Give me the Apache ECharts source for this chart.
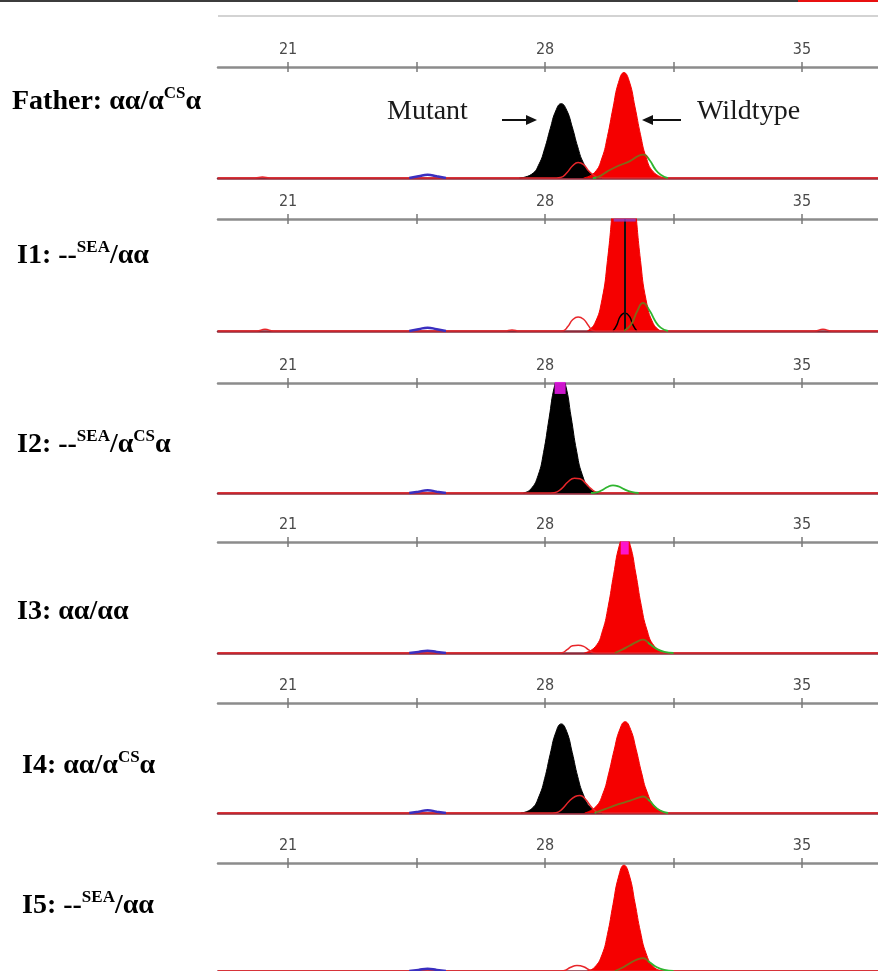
<!DOCTYPE html>
<html>
<head>
<meta charset="utf-8">
<script src="https://cdn.jsdelivr.net/npm/echarts@6/dist/echarts.min.js"></script>
<style>
  html, body { margin: 0; padding: 0; background: #fff; }
  #main { width: 878px; height: 971px; }
</style>
</head>
<body>
<div id="main"></div>
<script>
// x axis (size, bp)
const xMin = 19.09, xMax = 37.07;
const tickValues = [21, 24.5, 28, 31.5, 35];
const labelValues = [21, 28, 35];

// sample names, rich text
const sampleNames = [
  '{b|Father: αα/α}{s|CS}{b|α}',
  '{b|I1: --}{s|SEA}{b|/αα}',
  '{b|I2: --}{s|SEA}{b|/α}{s|CS}{b|α}',
  '{b|I3: αα/αα}',
  '{b|I4: αα/α}{s|CS}{b|α}',
  '{b|I5: --}{s|SEA}{b|/αα}'
];

// Father
const fatherBlack = [[27.3,0],[27.64,3.5],[27.84,12.8],[27.99,26.5],[28.14,44.3],[28.29,60.4],[28.44,67],[28.59,61],[28.74,46],[28.89,28],[29.04,14],[29.24,4.5],[29.55,0]];
const fatherRed = [[29.05,0],[29.35,5],[29.55,18],[29.7,37.5],[29.85,63],[30.0,86],[30.15,95],[30.3,86.5],[30.45,64],[30.6,39],[30.75,19],[30.95,5.5],[31.25,0]];
const fatherTrace = [[19.09,0],[20.1,0],[20.3,0.8],[20.5,0],[28.2,0],[28.42,0.5],[28.6,5],[28.75,11],[28.9,14],[29.05,12],[29.2,6],[29.35,2],[29.5,0.3],[29.7,0],[37.07,0]];
const fatherGreen = [[29.3,0],[29.45,1],[29.7,6],[30.0,11],[30.3,15],[30.55,20],[30.68,21],[30.85,16],[31.0,8],[31.15,3],[31.35,0]];
const fatherBlue = [[24.3,0],[24.55,1.5],[24.8,3],[25.05,1.5],[25.3,0]];

// I1
const i1Black = [[29.85,0],[29.95,5],[30.05,13],[30.18,16],[30.3,13],[30.4,5],[30.5,0]];
const i1Spike = [30.18];
const i1Red = [[29.15,0],[29.35,6.5],[29.55,28],[29.7,63],[29.85,113],[30.0,160],[30.15,180],[30.3,160],[30.45,113],[30.6,63],[30.75,28],[30.95,6.5],[31.15,0]];
const i1Trace = [[19.09,0],[20.15,0],[20.37,1.5],[20.6,0],[26.9,0],[27.1,1],[27.3,0],[28.35,0],[28.5,0.3],[28.62,4],[28.75,10],[28.9,12.5],[29.05,10.5],[29.18,5],[29.3,0.5],[29.45,0],[35.35,0],[35.57,1.5],[35.8,0],[37.07,0]];
const i1Green = [[30.15,0],[30.35,6],[30.5,17],[30.67,25],[30.85,18],[31.0,9],[31.15,3],[31.35,0]];
const i1Blue = [[24.3,0],[24.55,1.5],[24.8,3],[25.05,1.5],[25.3,0]];
const i1Cap = [[30.17,99]];

// I2
const i2Black = [[27.41,0],[27.61,3.5],[27.81,16],[27.96,37],[28.11,68],[28.26,97.5],[28.41,110],[28.56,98],[28.71,69],[28.86,38],[29.01,17],[29.21,4],[29.45,0]];
const i2Trace = [[19.09,0],[28.05,0],[28.25,0.3],[28.45,4],[28.62,10],[28.8,13.5],[28.95,13],[29.1,9],[29.25,4],[29.42,0.5],[29.6,0],[37.07,0]];
const i2Green = [[29.25,0],[29.4,0.5],[29.55,2.5],[29.7,5.5],[29.85,7],[30.0,6],[30.15,3.5],[30.35,1],[30.55,0]];
const i2Blue = [[24.3,0],[24.55,1.2],[24.8,2.5],[25.05,1.2],[25.3,0]];
const i2Cap = [[28.41,95.5]];

// I3
const i3Red = [[29.07,0],[29.37,5.7],[29.57,20.5],[29.72,42],[29.87,71],[30.02,96.5],[30.17,107],[30.32,97],[30.47,72],[30.62,43],[30.77,21.5],[30.97,6.5],[31.27,0]];
const i3Trace = [[19.09,0],[28.25,0],[28.45,0.2],[28.6,3],[28.75,6.5],[28.9,7],[29.05,6],[29.2,2.5],[29.32,0.3],[29.5,0],[37.07,0]];
const i3Green = [[29.9,0],[30.1,3],[30.3,6.5],[30.5,10],[30.67,12],[30.85,8],[31.05,3.5],[31.25,1],[31.5,0]];
const i3Blue = [[24.3,0],[24.55,1],[24.8,2],[25.05,1],[25.3,0]];
const i3Cap = [[30.17,94.6]];

// I4
const i4Black = [[27.34,0],[27.64,4],[27.84,15.5],[27.99,31.5],[28.14,53.5],[28.29,73],[28.44,81],[28.59,74],[28.74,55],[28.89,33],[29.04,17],[29.24,5],[29.55,0]];
const i4Red = [[29.08,0],[29.38,5.6],[29.58,18],[29.73,35.5],[29.88,57],[30.03,75.5],[30.18,83],[30.33,76],[30.48,58],[30.63,36.5],[30.78,19],[30.98,6.5],[31.3,0]];
const i4Trace = [[19.09,0],[28.1,0],[28.3,0.3],[28.48,4],[28.65,10.5],[28.82,15],[28.95,16],[29.1,12.5],[29.25,6],[29.42,1],[29.6,0],[37.07,0]];
const i4Green = [[29.35,0],[29.5,2],[29.75,5],[30.0,8],[30.3,11],[30.55,14],[30.67,15],[30.85,11],[31.0,5.5],[31.15,2],[31.35,0]];
const i4Blue = [[24.3,0],[24.55,1.2],[24.8,2.5],[25.05,1.2],[25.3,0]];

// I5
const i5Red = [[29.15,0],[29.35,3.5],[29.55,15],[29.7,34],[29.85,61.5],[30.0,87],[30.15,98],[30.3,88],[30.45,63],[30.6,36],[30.75,16.5],[30.95,4],[31.2,0]];
const i5Trace = [[19.09,0],[28.3,0],[28.5,0.2],[28.7,3.5],[28.87,5],[29.05,4],[29.25,0.5],[29.45,0],[37.07,0]];
const i5Green = [[29.9,0],[30.1,3],[30.3,7],[30.5,10.5],[30.67,12],[30.85,8],[31.05,3.5],[31.25,1],[31.5,0]];
const i5Blue = [[24.3,0],[24.55,1],[24.8,2],[25.05,1],[25.3,0]];

const panels = [
  { black: fatherBlack, red: fatherRed, trace: fatherTrace, green: fatherGreen, blue: fatherBlue, olive: true },
  { black: i1Black, red: i1Red, trace: i1Trace, green: i1Green, blue: i1Blue, spike: i1Spike, cap: i1Cap, capColor: '#8a3fc8', capSize: [22, 3], olive: true },
  { black: i2Black, trace: i2Trace, green: i2Green, blue: i2Blue, cap: i2Cap, capColor: '#ff1aff', capSize: [11, 12] },
  { red: i3Red, trace: i3Trace, green: i3Green, blue: i3Blue, cap: i3Cap, capColor: '#ff1aff', capSize: [8, 13], olive: true },
  { black: i4Black, red: i4Red, trace: i4Trace, green: i4Green, blue: i4Blue, olive: true },
  { red: i5Red, trace: i5Trace, green: i5Green, blue: i5Blue, olive: true }
];

// layout
const panelTop = [67, 219, 383, 542, 703, 863];
const panelHeight = [111, 112, 110, 111, 110, 108];
const nameX = [12, 17, 17, 17, 22, 22];
const nameY = [102, 256, 445, 615, 766, 906];

const tickFont = 'Liberation Sans Narrow, DejaVu Sans Condensed, Arial, sans-serif';
const serif = 'Liberation Serif, Times New Roman, serif';

const grid = [], xAxis = [], yAxis = [], series = [], graphic = [];
const oliveSeries = [];

panels.forEach((p, i) => {
  const g = { left: 218, right: 0, top: panelTop[i], height: panelHeight[i] };
  grid.push(Object.assign({}, g), Object.assign({}, g));
  // top axis: labels, outward ticks
  xAxis.push({
    type: 'value', gridIndex: 2 * i, position: 'top', min: xMin, max: xMax,
    splitLine: { show: false },
    axisLine: { show: true, onZero: false, lineStyle: { color: '#8c8c8c', width: 2.5 } },
    axisTick: { show: true, customValues: tickValues, length: 5, lineStyle: { color: '#7a7a7a', width: 1.5 } },
    axisLabel: { show: true, customValues: labelValues, color: '#4a4a4a', fontSize: 16, margin: 9, fontFamily: tickFont }
  });
  // baseline
  xAxis.push({
    type: 'value', gridIndex: 2 * i, position: 'bottom', min: xMin, max: xMax,
    splitLine: { show: false }, axisTick: { show: false }, axisLabel: { show: false },
    axisLine: { show: true, onZero: false, lineStyle: { color: '#8a2a3a', width: 2.5 } }
  });
  // inward ticks
  xAxis.push({
    type: 'value', gridIndex: 2 * i + 1, position: 'top', min: xMin, max: xMax,
    splitLine: { show: false }, axisLabel: { show: false },
    axisLine: { show: false, onZero: false },
    axisTick: { show: true, inside: true, customValues: tickValues, length: 5, lineStyle: { color: '#7a7a7a', width: 1.5 } }
  });
  yAxis.push({ type: 'value', gridIndex: 2 * i, min: 0, max: 100, show: false },
             { type: 'value', gridIndex: 2 * i + 1, min: 0, max: 100, show: false });

  const ax = { xAxisIndex: 3 * i, yAxisIndex: 2 * i };
  if (p.black && !p.spike) {
    series.push(Object.assign({ type: 'line', data: p.black, smooth: true, symbol: 'none', z: 2,
      lineStyle: { color: '#000', width: 1 }, areaStyle: { color: '#000', opacity: 1 } }, ax));
  }
  if (p.red) {
    series.push(Object.assign({ type: 'line', data: p.red, smooth: true, symbol: 'none', z: 3,
      lineStyle: { color: '#f50000', width: 1 }, areaStyle: { color: '#f50000', opacity: 1 } }, ax));
  }
  if (p.spike && p.black) {
    // small black trace with its spike, above the red fill
    series.push(Object.assign({ type: 'line', data: p.black, smooth: true, symbol: 'none', z: 4,
      lineStyle: { color: '#000', width: 1.5 },
      markLine: { symbol: 'none', silent: true, label: { show: false },
        lineStyle: { color: '#111', width: 2, type: 'solid' },
        data: p.spike.map(v => ({ xAxis: v })) } }, ax));
  }
  series.push(Object.assign({ type: 'line', data: p.trace, smooth: true, symbol: 'none', z: 5,
    lineStyle: { color: '#e8262a', width: 1.5 } }, ax));
  const gi = series.length;
  const greenLine = p.olive ? { width: 1.8 } : { color: '#2fb52f', width: 1.8 };
  series.push(Object.assign({ type: 'line', data: p.green, smooth: true, symbol: 'none', z: 6,
    color: '#2fb52f', lineStyle: greenLine }, ax));
  if (p.olive) oliveSeries.push(gi);
  series.push(Object.assign({ type: 'line', data: p.blue, smooth: true, symbol: 'none', z: 6,
    lineStyle: { color: '#3a2fc0', width: 2.5 } }, ax));
  if (p.cap) {
    series.push(Object.assign({ type: 'scatter', data: p.cap, symbol: 'rect', symbolSize: p.capSize,
      clip: false, z: 7, itemStyle: { color: p.capColor } }, ax));
  }

  graphic.push({
    type: 'text', left: nameX[i], top: nameY[i] - 17,
    style: {
      text: sampleNames[i],
      rich: {
        b: { fontFamily: serif, fontWeight: 'bold', fontSize: 28, color: '#111', lineHeight: 34 },
        s: { fontFamily: serif, fontWeight: 'bold', fontSize: 17, color: '#111', verticalAlign: 'top', lineHeight: 22 }
      }
    }
  });
});

// screenshot frame bits
graphic.push(
  { type: 'rect', shape: { x: 0, y: 0, width: 878, height: 2 }, style: { fill: '#3c3c3c' } },
  { type: 'rect', shape: { x: 798, y: 0, width: 80, height: 2 }, style: { fill: '#e81010' } },
  { type: 'line', shape: { x1: 218, y1: 16, x2: 878, y2: 16 }, style: { stroke: '#c4c4c4', lineWidth: 1.5 } }
);

// Mutant / Wildtype annotation
graphic.push(
  { type: 'text', left: 387, top: 98, style: { text: 'Mutant', font: '28px ' + serif, fill: '#1a1a1a' } },
  { type: 'line', shape: { x1: 502, y1: 120, x2: 528, y2: 120 }, style: { stroke: '#111', lineWidth: 2 } },
  { type: 'polygon', shape: { points: [[537, 120], [526, 115], [526, 125]] }, style: { fill: '#111' } },
  { type: 'polygon', shape: { points: [[642, 120], [653, 115], [653, 125]] }, style: { fill: '#111' } },
  { type: 'line', shape: { x1: 651, y1: 120, x2: 681, y2: 120 }, style: { stroke: '#111', lineWidth: 2 } },
  { type: 'text', left: 697, top: 98, style: { text: 'Wildtype', font: '28px ' + serif, fill: '#1a1a1a' } }
);

const chart = echarts.init(document.getElementById('main'));
chart.setOption({
  animation: false,
  backgroundColor: '#fff',
  grid, xAxis, yAxis, series, graphic,
  visualMap: {
    type: 'piecewise', show: false, dimension: 0, seriesIndex: oliveSeries,
    pieces: [
      { lt: 29.4, color: '#2fb52f' },
      { gte: 29.4, lt: 30.8, color: '#7f6a18' },
      { gte: 30.8, color: '#2fb52f' }
    ]
  }
});
</script>
</body>
</html>
